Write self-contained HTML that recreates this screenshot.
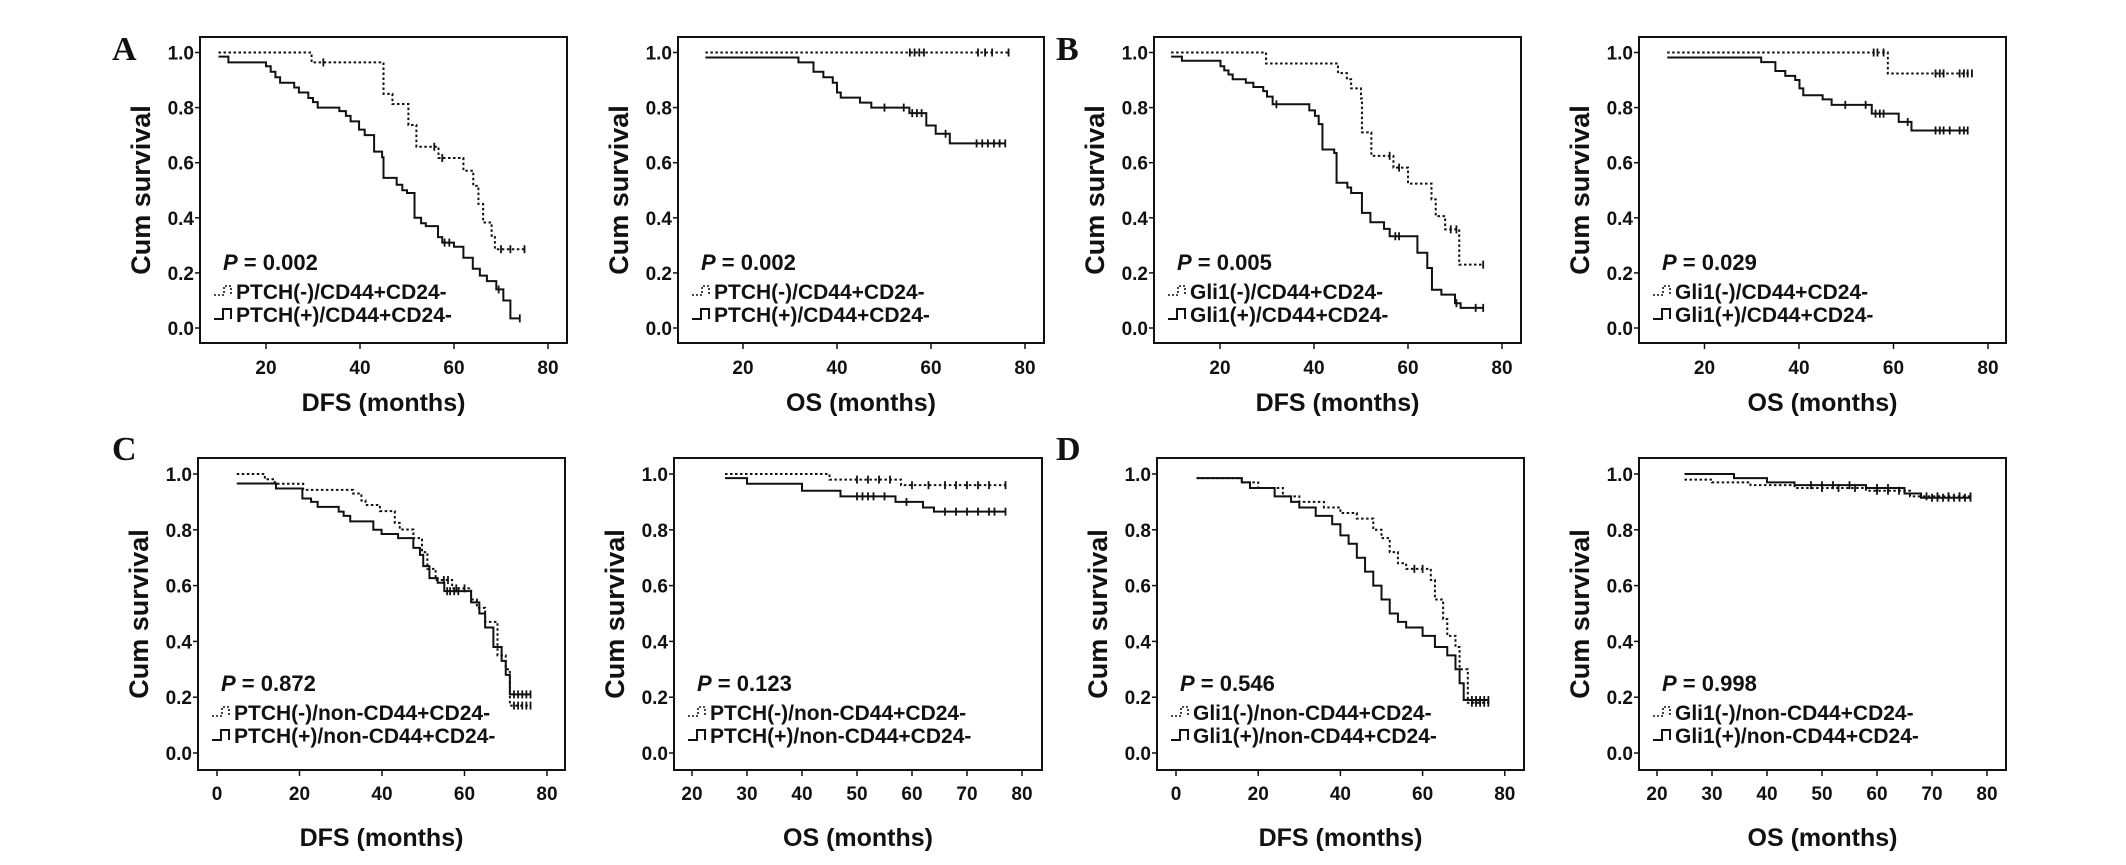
<!DOCTYPE html>
<html><head><meta charset="utf-8"><style>
html,body{margin:0;padding:0;background:#fff;}
svg{display:block;font-family:"Liberation Sans",Arial,sans-serif;}
</style></head><body>
<svg id="fig" width="2126" height="865" viewBox="0 0 2126 865" xmlns="http://www.w3.org/2000/svg"></svg>
<script>
// ---- data: times (months), survival levels, censor times ----
const aDfsNegT=[9.9,29.7,45,46.9,50.3,52,56.7,62,64.1,65.2,66.2,68,68.7];
const aDfsNegS=[1,0.964,0.85,0.813,0.737,0.658,0.617,0.571,0.516,0.45,0.383,0.335,0.286];
const aDfsNegC=[32.2,55.8,57.5,70,72,75];
const aDfsPosT=[9.9,12,20,21,22,23,26,27,29,30,31,35.6,37,38,39.8,41,43,44.7,45,47.8,49,50,51.6,53,54,56.6,57.5,60,62,64,65.5,67,69,70.5,72];
const aDfsPosS=[0.985,0.964,0.95,0.93,0.91,0.89,0.873,0.855,0.835,0.82,0.80,0.787,0.77,0.75,0.72,0.70,0.64,0.62,0.545,0.52,0.50,0.49,0.40,0.38,0.37,0.33,0.31,0.295,0.255,0.215,0.19,0.17,0.14,0.10,0.035];
const aDfsPosC=[58,59,69.5,74];
const aOsNegT=[12];
const aOsNegS=[1];
const aOsNegC=[55.5,56.5,57.5,58.5,70,71.5,73,76.5];
const aOsPosT=[12,31.8,35,37.1,39.1,40,40.8,44.9,47.3,55.4,59,61,64];
const aOsPosS=[0.982,0.964,0.93,0.91,0.89,0.855,0.836,0.818,0.80,0.78,0.735,0.705,0.67];
const aOsPosC=[50.1,54.2,56,57,58,63.1,69.7,70.9,72.1,73.4,74.6,75.8];
const bDfsNegT=[9.6,29.8,45.1,47,47.9,50,50.2,52.2,56.9,60,65,65.9,67.9,70.9];
const bDfsNegS=[1,0.96,0.925,0.903,0.87,0.833,0.71,0.625,0.582,0.524,0.467,0.406,0.358,0.23];
const bDfsNegC=[56.1,58.1,69.1,70.3,76];
const bDfsPosT=[9.6,11.9,20.1,20.9,21.8,22.7,25.5,27.1,29.2,30,31.2,39,40.2,41,41.8,44.3,44.8,47.1,47.9,50.2,52,54.9,56.1,62,64.1,65.1,67.1,70,71.2];
const bDfsPosS=[0.985,0.97,0.95,0.935,0.92,0.903,0.89,0.875,0.86,0.84,0.812,0.79,0.77,0.74,0.648,0.635,0.527,0.51,0.49,0.418,0.384,0.36,0.333,0.273,0.218,0.139,0.121,0.09,0.073];
const bDfsPosC=[32,57.3,58.1,70.3,74.4,76];
const bOsNegT=[12.1,58.8];
const bOsNegS=[1,0.924];
const bOsNegC=[55.8,56.6,57.9,68.9,69.8,70.6,74,74.9,75.7,76.6];
const bOsPosT=[12.1,32,35,37.1,39.2,40.1,40.9,45,46.9,55.4,61.1,63.8];
const bOsPosS=[0.982,0.965,0.933,0.915,0.9,0.87,0.845,0.83,0.81,0.778,0.748,0.717];
const bOsPosC=[49.8,54.1,56.2,57.1,57.9,63,68.9,69.8,70.6,71.9,74,74.9,75.7];
const cDfsNegT=[4.8,11.6,14,20.9,33,35,36,39.5,43.1,44.3,47.6,49.7,51,53,57,61.6,63,65,68,70,71];
const cDfsNegS=[1,0.981,0.965,0.943,0.93,0.905,0.889,0.867,0.825,0.801,0.77,0.72,0.66,0.62,0.59,0.55,0.52,0.47,0.35,0.3,0.17];
const cDfsNegC=[55,56,58,60,72,73,74,75,76];
const cDfsPosT=[4.8,14.3,20.7,22.8,24.4,29.5,30.7,32.3,37.9,39.9,43.9,47.6,49.2,50,51.5,53.5,55.1,61.6,63.6,65,67,69,70,71];
const cDfsPosS=[0.966,0.948,0.912,0.9,0.882,0.865,0.85,0.83,0.8,0.785,0.77,0.735,0.71,0.67,0.627,0.61,0.58,0.54,0.5,0.45,0.38,0.33,0.28,0.21];
const cDfsPosC=[55.8,56.5,57.5,58.5,72,73,74,75,76];
const cOsNegT=[26,45,58];
const cOsNegS=[1,0.98,0.96];
const cOsNegC=[50,52,54,56,60,63,66,68,70,72,74,77];
const cOsPosT=[26,30,40,47,57,62,64];
const cOsPosS=[0.985,0.965,0.94,0.92,0.9,0.88,0.865];
const cOsPosC=[50,51,52,53,55,59,66,68,70,72,74,75,77];
const dDfsNegT=[5,16,20,26,30,36,40,44,48,50,52,54,56,62,63,65,66,68,69,71];
const dDfsNegS=[0.985,0.97,0.95,0.92,0.9,0.88,0.86,0.84,0.8,0.77,0.72,0.68,0.66,0.62,0.55,0.48,0.42,0.38,0.3,0.18];
const dDfsNegC=[58,60,72,73,74,75,76];
const dDfsPosT=[5,16,18,24,28,30,34,38,40,42,44,46,48,50,52,54,56,60,63,66,68,69,70];
const dDfsPosS=[0.985,0.97,0.95,0.92,0.9,0.88,0.85,0.82,0.78,0.75,0.7,0.65,0.6,0.55,0.5,0.47,0.45,0.42,0.38,0.35,0.3,0.25,0.19];
const dDfsPosC=[72,73,74,75,76];
const dOsNegT=[25,30,37,45,58,66];
const dOsNegS=[0.98,0.97,0.96,0.95,0.94,0.92];
const dOsNegC=[50,53,56,60,62,64,69,71,73,75,77];
const dOsPosT=[25,34,40,45,58,65,68];
const dOsPosS=[1,0.985,0.97,0.96,0.95,0.93,0.915];
const dOsPosC=[48,50,52,55,60,62,70,71,72,73,74,75,76,77];
const yTicks=[0,0.2,0.4,0.6,0.8,1.0];
const dfsTicksTop=[20,40,60,80];
const dfsTicksBottom=[0,20,40,60,80];
const osTicksBottom=[20,30,40,50,60,70,80];

const NS="http://www.w3.org/2000/svg";
const svg=document.getElementById('fig');
function mk(tag,attrs,parent,text){const e=document.createElementNS(NS,tag);for(const k in attrs)e.setAttribute(k,attrs[k]);if(text!==undefined)e.textContent=text;(parent||svg).appendChild(e);return e;}

const rowTop={top:37,bottom:343,y1:52.5,y0:328,tickY:367,titleY:411};
const rowBot={top:458,bottom:770,y1:474,y0:753,tickY:793,titleY:846};
const panels=[
 {id:'a-dfs',row:rowTop,left:200,right:567,x0:172,ppm:4.7,ticks:dfsTicksTop,title:'DFS (months)',p:'0.002',lg:['PTCH(-)/CD44+CD24-','PTCH(+)/CD44+CD24-'],neg:[aDfsNegT,aDfsNegS,aDfsNegC],pos:[aDfsPosT,aDfsPosS,aDfsPosC]},
 {id:'a-os',row:rowTop,left:678,right:1044,x0:649,ppm:4.7,ticks:dfsTicksTop,title:'OS (months)',p:'0.002',lg:['PTCH(-)/CD44+CD24-','PTCH(+)/CD44+CD24-'],neg:[aOsNegT,aOsNegS,aOsNegC],pos:[aOsPosT,aOsPosS,aOsPosC]},
 {id:'b-dfs',row:rowTop,left:1154,right:1521,x0:1126,ppm:4.7,ticks:dfsTicksTop,title:'DFS (months)',p:'0.005',lg:['Gli1(-)/CD44+CD24-','Gli1(+)/CD44+CD24-'],neg:[bDfsNegT,bDfsNegS,bDfsNegC],pos:[bDfsPosT,bDfsPosS,bDfsPosC]},
 {id:'b-os',row:rowTop,left:1639,right:2006,x0:1610,ppm:4.725,ticks:dfsTicksTop,title:'OS (months)',p:'0.029',lg:['Gli1(-)/CD44+CD24-','Gli1(+)/CD44+CD24-'],neg:[bOsNegT,bOsNegS,bOsNegC],pos:[bOsPosT,bOsPosS,bOsPosC]},
 {id:'c-dfs',row:rowBot,left:198,right:565,x0:217,ppm:4.125,ticks:dfsTicksBottom,title:'DFS (months)',p:'0.872',lg:['PTCH(-)/non-CD44+CD24-','PTCH(+)/non-CD44+CD24-'],neg:[cDfsNegT,cDfsNegS,cDfsNegC],pos:[cDfsPosT,cDfsPosS,cDfsPosC]},
 {id:'c-os',row:rowBot,left:674,right:1042,x0:582,ppm:5.5,ticks:osTicksBottom,title:'OS (months)',p:'0.123',lg:['PTCH(-)/non-CD44+CD24-','PTCH(+)/non-CD44+CD24-'],neg:[cOsNegT,cOsNegS,cOsNegC],pos:[cOsPosT,cOsPosS,cOsPosC]},
 {id:'d-dfs',row:rowBot,left:1157,right:1524,x0:1176,ppm:4.11,ticks:dfsTicksBottom,title:'DFS (months)',p:'0.546',lg:['Gli1(-)/non-CD44+CD24-','Gli1(+)/non-CD44+CD24-'],neg:[dDfsNegT,dDfsNegS,dDfsNegC],pos:[dDfsPosT,dDfsPosS,dDfsPosC]},
 {id:'d-os',row:rowBot,left:1639,right:2006,x0:1547,ppm:5.5,ticks:osTicksBottom,title:'OS (months)',p:'0.998',lg:['Gli1(-)/non-CD44+CD24-','Gli1(+)/non-CD44+CD24-'],neg:[dOsNegT,dOsNegS,dOsNegC],pos:[dOsPosT,dOsPosS,dOsPosC]}
];

function survAt(T,S,t){let s=S[0];for(let i=0;i<T.length;i++){if(T[i]<=t)s=S[i];}return s;}

panels.forEach(pn=>{
 const r=pn.row;
 const g=mk('g',{});
 
 
 const X=t=>pn.x0+t*pn.ppm;
 const Y=s=>r.y0-(r.y0-r.y1)*s;
 const box=mk('rect',{x:pn.left,y:r.top,width:pn.right-pn.left,height:r.bottom-r.top,fill:'none',stroke:'#111','stroke-width':2},g);
 
 
 yTicks.forEach(v=>{
  mk('line',{x1:pn.left-5,x2:pn.left,y1:Y(v),y2:Y(v),stroke:'#111','stroke-width':1.5},g);
  const t=mk('text',{x:pn.left-6,y:Y(v)+7,'text-anchor':'end','font-size':19,'font-weight':'bold',fill:'#111'},g,v.toFixed(1));
  
  
 });
 pn.ticks.forEach(v=>{
  mk('line',{x1:X(v),x2:X(v),y1:r.bottom,y2:r.bottom+6,stroke:'#111','stroke-width':1.5},g);
  const t=mk('text',{x:X(v),y:r.tickY+7,'text-anchor':'middle','font-size':19,'font-weight':'bold',fill:'#111'},g,String(v));
  
  
 });
 const yt=mk('text',{x:0,y:0,transform:`translate(${pn.left-50},${(r.top+r.bottom)/2}) rotate(-90)`,'text-anchor':'middle','font-size':27,'font-weight':'bold',fill:'#111'},g,'Cum survival');
 
 
 const xt=mk('text',{x:(pn.left+pn.right)/2,y:r.titleY,'text-anchor':'middle','font-size':25,'font-weight':'bold',fill:'#111'},g,pn.title);
 
 
 [['neg',pn.neg,'2.5,2.5'],['pos',pn.pos,null]].forEach(([nm,c,dash])=>{
  const T=c[0],S=c[1],C=c[2];
  const end=Math.max(T[T.length-1],C.length?C[C.length-1]:0);
  let d=`M${X(T[0])},${Y(S[0])}`;
  for(let i=1;i<T.length;i++){d+=` H${X(T[i])} V${Y(S[i])}`;}
  d+=` H${X(end)}`;
  const a={d:d,fill:'none',stroke:'#111','stroke-width':2};
  if(dash)a['stroke-dasharray']=dash;
  const p=mk('path',a,g);
  
  
  C.forEach(ct=>{
   const yy=Y(survAt(T,S,ct));
   const m=mk('line',{x1:X(ct),x2:X(ct),y1:yy-4,y2:yy+4,stroke:'#111','stroke-width':1.8},g);
   
   
  });
 });
 const px=pn.left+23, py=r.top+233;
 const pt=mk('text',{x:px,y:py,'font-size':22,fill:'#111'},g);
 
 
 mk('tspan',{'font-style':'italic','font-weight':'bold'},pt,'P');
 mk('tspan',{'font-weight':'bold'},pt,' = '+pn.p);
 const lx=pn.left+14;
 const l1y=r.top+254, l2y=r.top+277;
 const i1=mk('path',{d:`M${lx},${l1y+4} H${lx+10} V${l1y-5} H${lx+17} V${l1y+4}`,fill:'none',stroke:'#111','stroke-width':1.6,'stroke-dasharray':'2,2'},g);
 
 
 const t1=mk('text',{x:lx+22,y:l1y+8,'font-size':21,'font-weight':'bold',fill:'#111'},g,pn.lg[0]);
 
 
 const i2=mk('path',{d:`M${lx},${l2y+5} H${lx+9} V${l2y-5} H${lx+17} V${l2y+5}`,fill:'none',stroke:'#111','stroke-width':2},g);
 
 
 const t2=mk('text',{x:lx+22,y:l2y+8,'font-size':21,'font-weight':'bold',fill:'#111'},g,pn.lg[1]);
 
 
});

[['A',112,60],['B',1056,60],['C',112,460],['D',1056,460]].forEach(([l,x,y])=>{
 const t=mk('text',{x:x,y:y,'font-family':'"Liberation Serif",serif','font-size':34,'font-weight':'bold',fill:'#111'},svg,l);
 
 
});
</script>
</body></html>
